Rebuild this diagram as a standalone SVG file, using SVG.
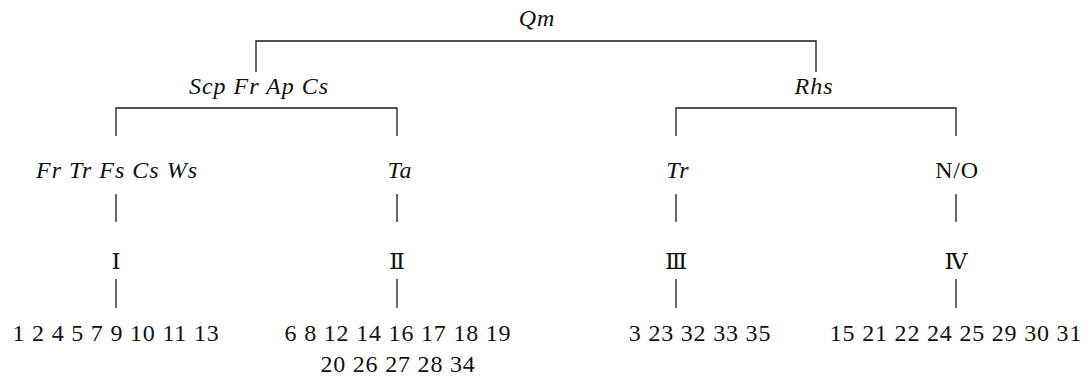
<svg xmlns="http://www.w3.org/2000/svg" width="1091" height="378" viewBox="0 0 1091 378">
<style>
text{font-family:"Liberation Serif","Times New Roman",serif;fill:#111;text-anchor:middle}
.it{font-style:italic;font-size:24px;letter-spacing:1px}
.n{font-size:24px;letter-spacing:0.8px}
.r{font-family:"DejaVu Serif","Noto Sans CJK SC",serif;font-size:23px}
.c line,.c path{stroke:#1a1a1a;stroke-width:1.3;fill:none}
</style>
<rect width="1091" height="378" fill="#fff"/>
<g class="c" id="connectors">
<path d="M256,72 V41 H816 V72"/>
<path d="M116,136 V108 H397 V136"/>
<path d="M676,136 V108 H956 V136"/>
<line x1="116" y1="194" x2="116" y2="222"/>
<line x1="397" y1="194" x2="397" y2="222"/>
<line x1="676" y1="194" x2="676" y2="222"/>
<line x1="956" y1="194" x2="956" y2="222"/>
<line x1="116" y1="279" x2="116" y2="308"/>
<line x1="397" y1="279" x2="397" y2="308"/>
<line x1="676" y1="279" x2="676" y2="308"/>
<line x1="956" y1="279" x2="956" y2="308"/>
</g>
<g id="n-qm"><text class="it" x="537" y="26">Qm</text></g>
<g id="n-scp"><text class="it" x="259" y="94">Scp Fr Ap Cs</text></g>
<g id="n-rhs"><text class="it" x="814" y="94">Rhs</text></g>
<g id="n-frtr"><text class="it" x="117" y="178">Fr Tr Fs Cs Ws</text></g>
<g id="n-ta"><text class="it" x="400" y="178">Ta</text></g>
<g id="n-tr"><text class="it" x="678" y="178">Tr</text></g>
<g id="n-no"><text class="n" x="957" y="178">N/O</text></g>
<g id="n-i"><text class="r" x="116" y="269">Ⅰ</text></g>
<g id="n-ii"><text class="r" x="397" y="269">Ⅱ</text></g>
<g id="n-iii"><text class="r" x="676" y="269">Ⅲ</text></g>
<g id="n-iv"><text class="r" x="956" y="269">Ⅳ</text></g>
<g id="g-i"><text class="n" x="116" y="341">1 2 4 5 7 9 10 11 13</text></g>
<g id="g-ii"><text class="n" x="398" y="341">6 8 12 14 16 17 18 19</text><text class="n" x="398" y="372">20 26 27 28 34</text></g>
<g id="g-iii"><text class="n" x="700" y="341">3 23 32 33 35</text></g>
<g id="g-iv"><text class="n" x="956" y="341">15 21 22 24 25 29 30 31</text></g>
</svg>
